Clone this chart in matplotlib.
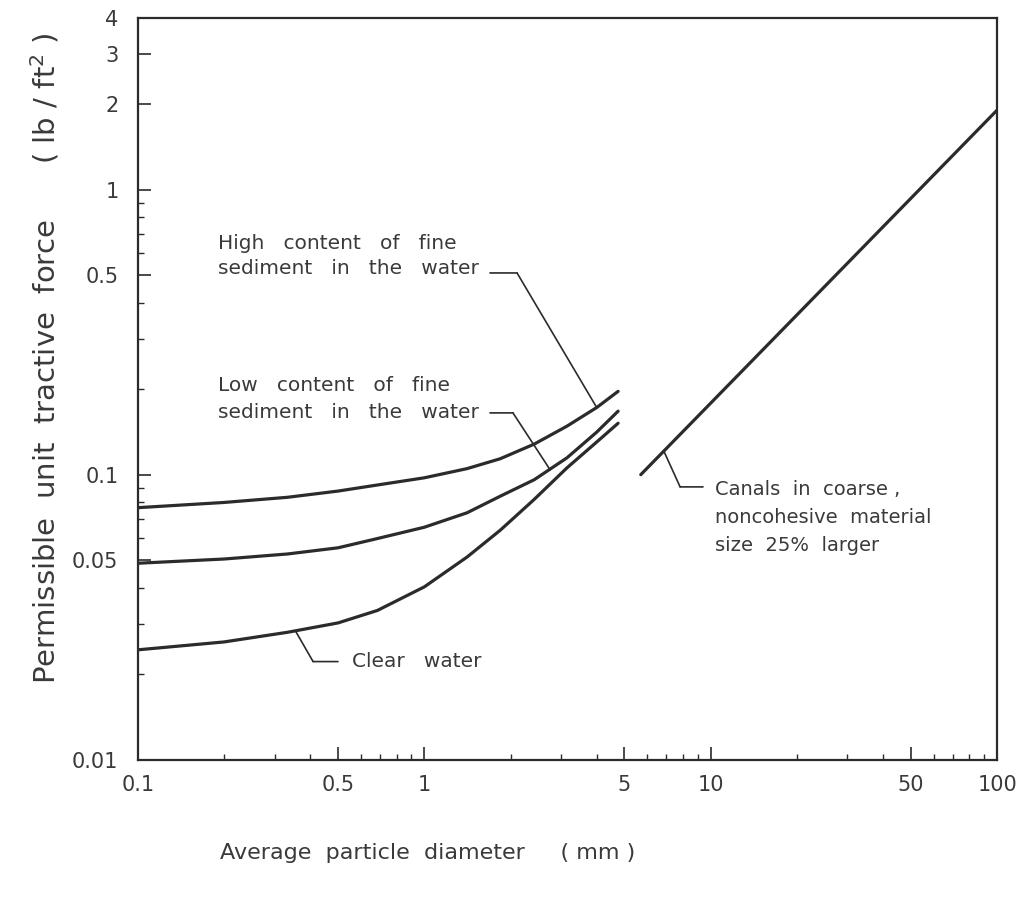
import numpy as np
import matplotlib
matplotlib.use('Agg')
import matplotlib.pyplot as plt
from matplotlib.ticker import FixedLocator, NullFormatter

plt.rcParams['font.family'] = ['DejaVu Sans']

# values (mm, lb/ft^2)
diam = [0.1, 0.2, 0.333, 0.5, 0.686, 1.0, 1.41, 1.84, 2.42, 3.15, 4.0, 4.75]
high_t = [0.0766, 0.0799, 0.0833, 0.0876, 0.092, 0.0975, 0.105, 0.1137, 0.128, 0.148, 0.172, 0.196]
low_t = [0.0489, 0.0506, 0.0527, 0.0554, 0.0597, 0.0654, 0.0735, 0.084, 0.096, 0.1146, 0.141, 0.167]
clear_t = [0.0243, 0.0259, 0.028, 0.0302, 0.0334, 0.0404, 0.0514, 0.0638, 0.0819, 0.1057, 0.1302, 0.1515]

coarse_d = [5.7, 100]
coarse_t = [0.1, 1.9]

xticks = [0.1, 0.5, 1, 5, 10, 50, 100]
xticklabels = ['0.1', '0.5', '1', '5', '10', '50', '100']
yticks = [0.01, 0.05, 0.1, 0.5, 1, 2, 3, 4]
yticklabels = ['0.01', '0.05', '0.1', '0.5', '1', '2', '3', '4']

INK = '#2b2b2b'
TXT = '#3a3a3a'

fig = plt.figure(figsize=(10.29, 8.97), dpi=100)
ax = fig.add_axes([0.134, 0.153, 0.835, 0.827])

for t in (high_t, low_t, clear_t):
    ax.plot(diam, t, color=INK, lw=2.3, solid_capstyle='round', solid_joinstyle='round')
ax.plot(coarse_d, coarse_t, color=INK, lw=2.3, solid_capstyle='round')

ax.set_xscale('log')
ax.set_yscale('log')
ax.set_xlim(0.1, 100)
ax.set_ylim(0.01, 4)

ax.xaxis.set_major_locator(FixedLocator(xticks))
ax.set_xticklabels(xticklabels)
ax.yaxis.set_major_locator(FixedLocator(yticks))
ax.set_yticklabels(yticklabels)
xminor = [m * 10.0 ** e for e in (-1, 0, 1) for m in range(2, 10) if m != 5]
yminor = [m * 10.0 ** e for e in (-2, -1, 0) for m in range(2, 10) if m != 5 and m * 10.0 ** e < 2]
ax.xaxis.set_minor_locator(FixedLocator(xminor))
ax.yaxis.set_minor_locator(FixedLocator(yminor))
ax.xaxis.set_minor_formatter(NullFormatter())
ax.yaxis.set_minor_formatter(NullFormatter())

ax.tick_params(which='both', direction='in', top=False, right=False, colors=INK, labelcolor=TXT)
ax.tick_params(which='major', length=9.5, width=1.2, labelsize=15)
ax.tick_params(which='minor', length=4.5, width=1.0)
ax.tick_params(axis='x', which='major', pad=11)
ax.tick_params(axis='y', which='major', pad=14)
for s in ax.spines.values():
    s.set_color(INK)
    s.set_linewidth(1.6)

lead = dict(arrowstyle='-', color=INK, lw=1.2, shrinkA=0, shrinkB=0)
fs = 14.5

# high content label + leader
ax.text(0.19, 0.583, 'High   content   of   fine\nsediment   in   the   water', fontsize=fs,
        color=TXT, ha='left', va='center', linespacing=1.4)
ax.annotate('', xy=(2.108, 0.51), xytext=(1.696, 0.51), arrowprops=lead)
ax.annotate('', xy=(4.0, 0.172), xytext=(2.108, 0.51), arrowprops=lead)

# low content label + leader
ax.text(0.19, 0.1845, 'Low   content   of   fine\nsediment   in   the   water', fontsize=fs,
        color=TXT, ha='left', va='center', linespacing=1.5)
ax.annotate('', xy=(2.04, 0.1647), xytext=(1.696, 0.1647), arrowprops=lead)
ax.annotate('', xy=(2.75, 0.104), xytext=(2.04, 0.1647), arrowprops=lead)

# clear water
ax.annotate('', xy=(0.355, 0.0283), xytext=(0.409, 0.0221), arrowprops=lead)
ax.annotate('', xy=(0.409, 0.0221), xytext=(0.4995, 0.0221), arrowprops=lead)
ax.text(0.559, 0.0221, 'Clear   water', fontsize=fs, color=TXT, ha='left', va='center')

# coarse material
ax.annotate('', xy=(6.86, 0.121), xytext=(7.82, 0.0906), arrowprops=lead)
ax.annotate('', xy=(7.82, 0.0906), xytext=(9.4, 0.0906), arrowprops=lead)
ax.text(10.36, 0.0706, 'Canals  in  coarse ,\nnoncohesive  material\nsize  25%  larger', fontsize=14,
        color=TXT, ha='left', va='center', linespacing=1.6)

fig.text(0.044, 0.601, 'Permissible  unit  tractive  force      ( lb / ft$^2$ )', rotation=90,
         fontsize=21, color=TXT, ha='center', va='center')
fig.text(0.416, 0.049, 'Average  particle  diameter     ( mm )', fontsize=16,
         color=TXT, ha='center', va='center')

fig.savefig('out.png', dpi=100)
plt.close(fig)
